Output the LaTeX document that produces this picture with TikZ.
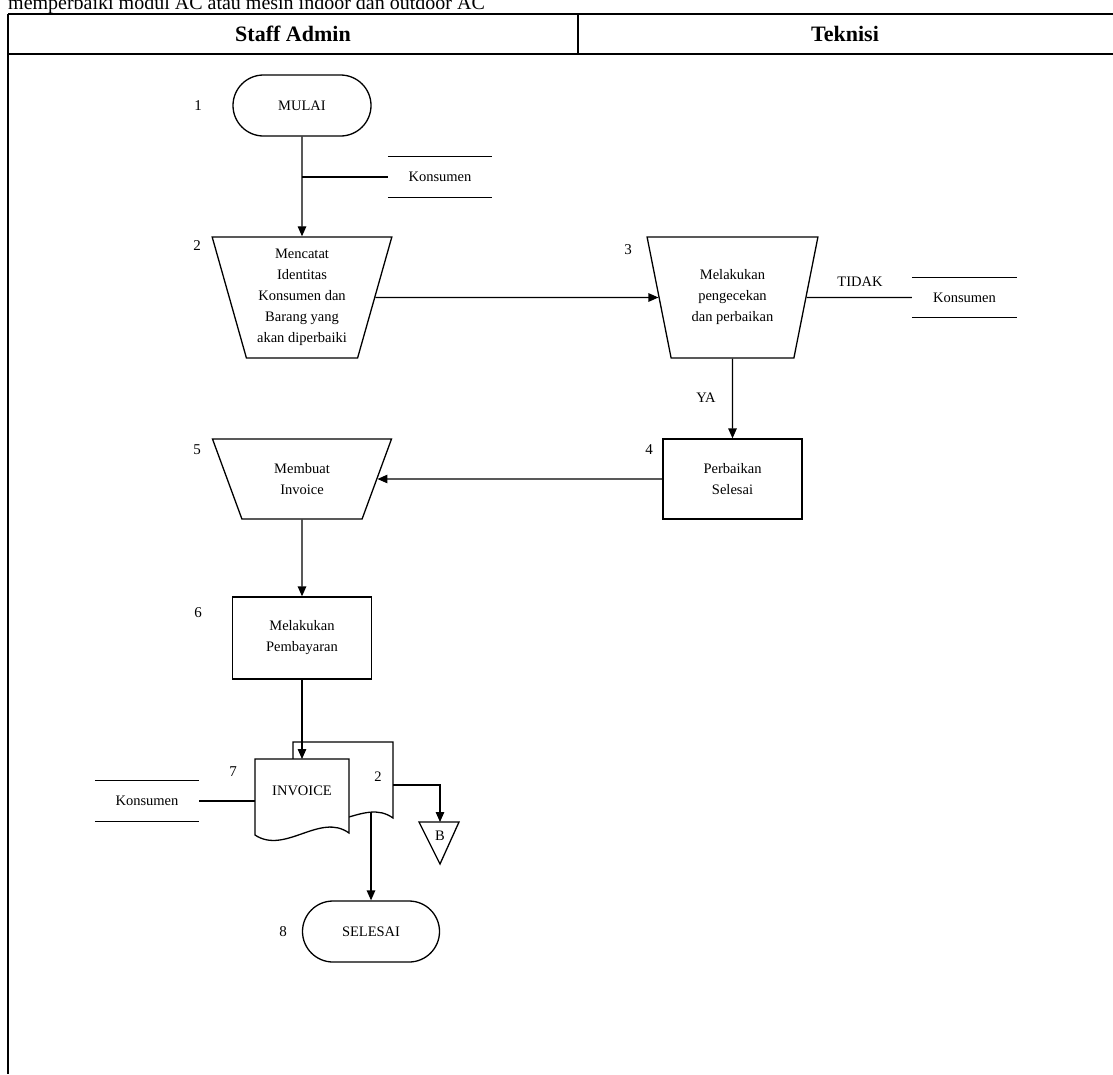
\documentclass[tikz,border=0pt]{standalone}
\usepackage{fontspec}
\setmainfont{Liberation Serif}
\usetikzlibrary{shapes.geometric,shapes.misc,arrows.meta}
\begin{document}
\begin{tikzpicture}[x=1pt,y=-1pt,
  every node/.style={font=\fontsize{14.5}{21}\selectfont, inner sep=1pt},
  flow/.style={line width=1.3pt},
  arr/.style={flow,-{Triangle[length=10pt,width=8.5pt]}},
  term/.style={draw, line width=1.3pt, rounded rectangle, minimum width=140pt, minimum height=61pt},
  proc/.style={draw, line width=1.3pt, rectangle, minimum width=139pt, minimum height=80pt, align=center},
  manual/.style={draw, line width=1.3pt, trapezium, shape border rotate=180, trapezium stretches=true, align=center},
  store/.style={minimum width=104pt, minimum height=40pt, inner sep=0pt},
  num/.style={font=\fontsize{15}{18}\selectfont},
  frame/.style={line width=2.6pt},
  hdr/.style={font=\bfseries\fontsize{22}{26}\selectfont}
]
\useasboundingbox (0,0) rectangle (1113,1074);
% title (cut off at top, as in the source)
\node[anchor=base west, inner sep=0pt, font=\fontsize{20}{24}\selectfont] (title) at (8,9) {memperbaiki modul AC atau mesin indoor dan outdoor AC};
% frame
\draw[frame] (8,14) -- (1113,14);
\draw[frame] (8,54) -- (1113,54);
\draw[frame] (8,14) -- (8,1074);
\draw[line width=1.2pt] (578,14) -- (578,54);
\node[hdr] (h1) at (293,34) {Staff Admin};
\node[hdr] (h2) at (845,34) {Teknisi};

% step numbers
\node[num] (n1) at (198,106) {1};
\node[num] (n2) at (197,246) {2};
\node[num] (n3) at (628,250) {3};
\node[num] (n4) at (649,450) {4};
\node[num] (n5) at (197,450) {5};
\node[num] (n6) at (198,613) {6};
\node[num] (n7) at (233,772) {7};
\node[num] (n8) at (283,932) {8};

% shapes
\node[term] (mulai) at (302,105.5) {MULAI};
\node[store] (k1) at (440,177) {Konsumen};
\draw[flow] (k1.north west) -- (k1.north east) (k1.south west) -- (k1.south east);

\node[manual, trapezium angle=74, minimum width=180pt, minimum height=121pt] (t2) at (302,297.5)
  {Mencatat\\Identitas\\Konsumen dan\\Barang yang\\akan diperbaiki};
\node[manual, trapezium angle=74, minimum width=171pt, minimum height=121pt] (t3) at (732.5,297.5)
  {Melakukan\\pengecekan\\dan perbaikan};
\node (tidak) at (860,282) {TIDAK};
\node[store, minimum width=105pt] (k2) at (964.5,297.5) {Konsumen};
\draw[flow] (k2.north west) -- (k2.north east) (k2.south west) -- (k2.south east);
\node (ya) at (706,398) {YA};

\node[proc] (b4) at (732.5,479) {Perbaikan\\Selesai};
\node[manual, trapezium angle=67, minimum width=180pt, minimum height=80pt] (t5) at (302,479)
  {Membuat\\Invoice};
\node[proc, minimum height=82pt] (b6) at (302,638) {Melakukan\\Pembayaran};

% documents (copy 2 behind, invoice in front)
\draw[flow, fill=white] (293,742) -- (393,742) -- (393,818)
  .. controls (364,797) and (329,840) .. (293,815) -- cycle;
\draw[flow, fill=white] (255,759) -- (349,759) -- (349,833)
  .. controls (320,812) and (285,855) .. (255,835) -- cycle;
\node (inv) at (302,791) {INVOICE};
\node (copy2) at (378,777) {2};
\coordinate (fdtop) at (302,759);
\coordinate (fdleft) at (255,801);
\coordinate (bdright) at (393,785);
\coordinate (bdbottom) at (371,813);

\node[store] (k3) at (147,801) {Konsumen};
\draw[flow] (k3.north west) -- (k3.north east) (k3.south west) -- (k3.south east);

% off-page connector B
\node (B) at (440,836) {B};
\draw[flow] (419,822) -- (459,822) -- (440,864) -- cycle;
\coordinate (Btop) at (440,822);

\node[term, minimum width=139pt] (selesai) at (371,931.5) {SELESAI};

% connectors
\draw[arr] (mulai.south) -- (t2.north);
\draw[flow] (k1.west) -- (mulai.south |- k1.west);
\draw[arr] (t2.east) -- (t3.west);
\draw[flow] (t3.east) -- (k2.west);
\draw[arr] (t3.south) -- (b4.north);
\draw[arr] (b4.west) -- (t5.east);
\draw[arr] (t5.south) -- (b6.north);
\draw[arr] (b6.south) -- (fdtop);
\draw[flow] (k3.east) -- (fdleft);
\draw[arr] (bdright) -- (Btop |- bdright) -- (Btop);
\draw[arr] (bdbottom) -- (selesai.north);
\end{tikzpicture}
\end{document}
